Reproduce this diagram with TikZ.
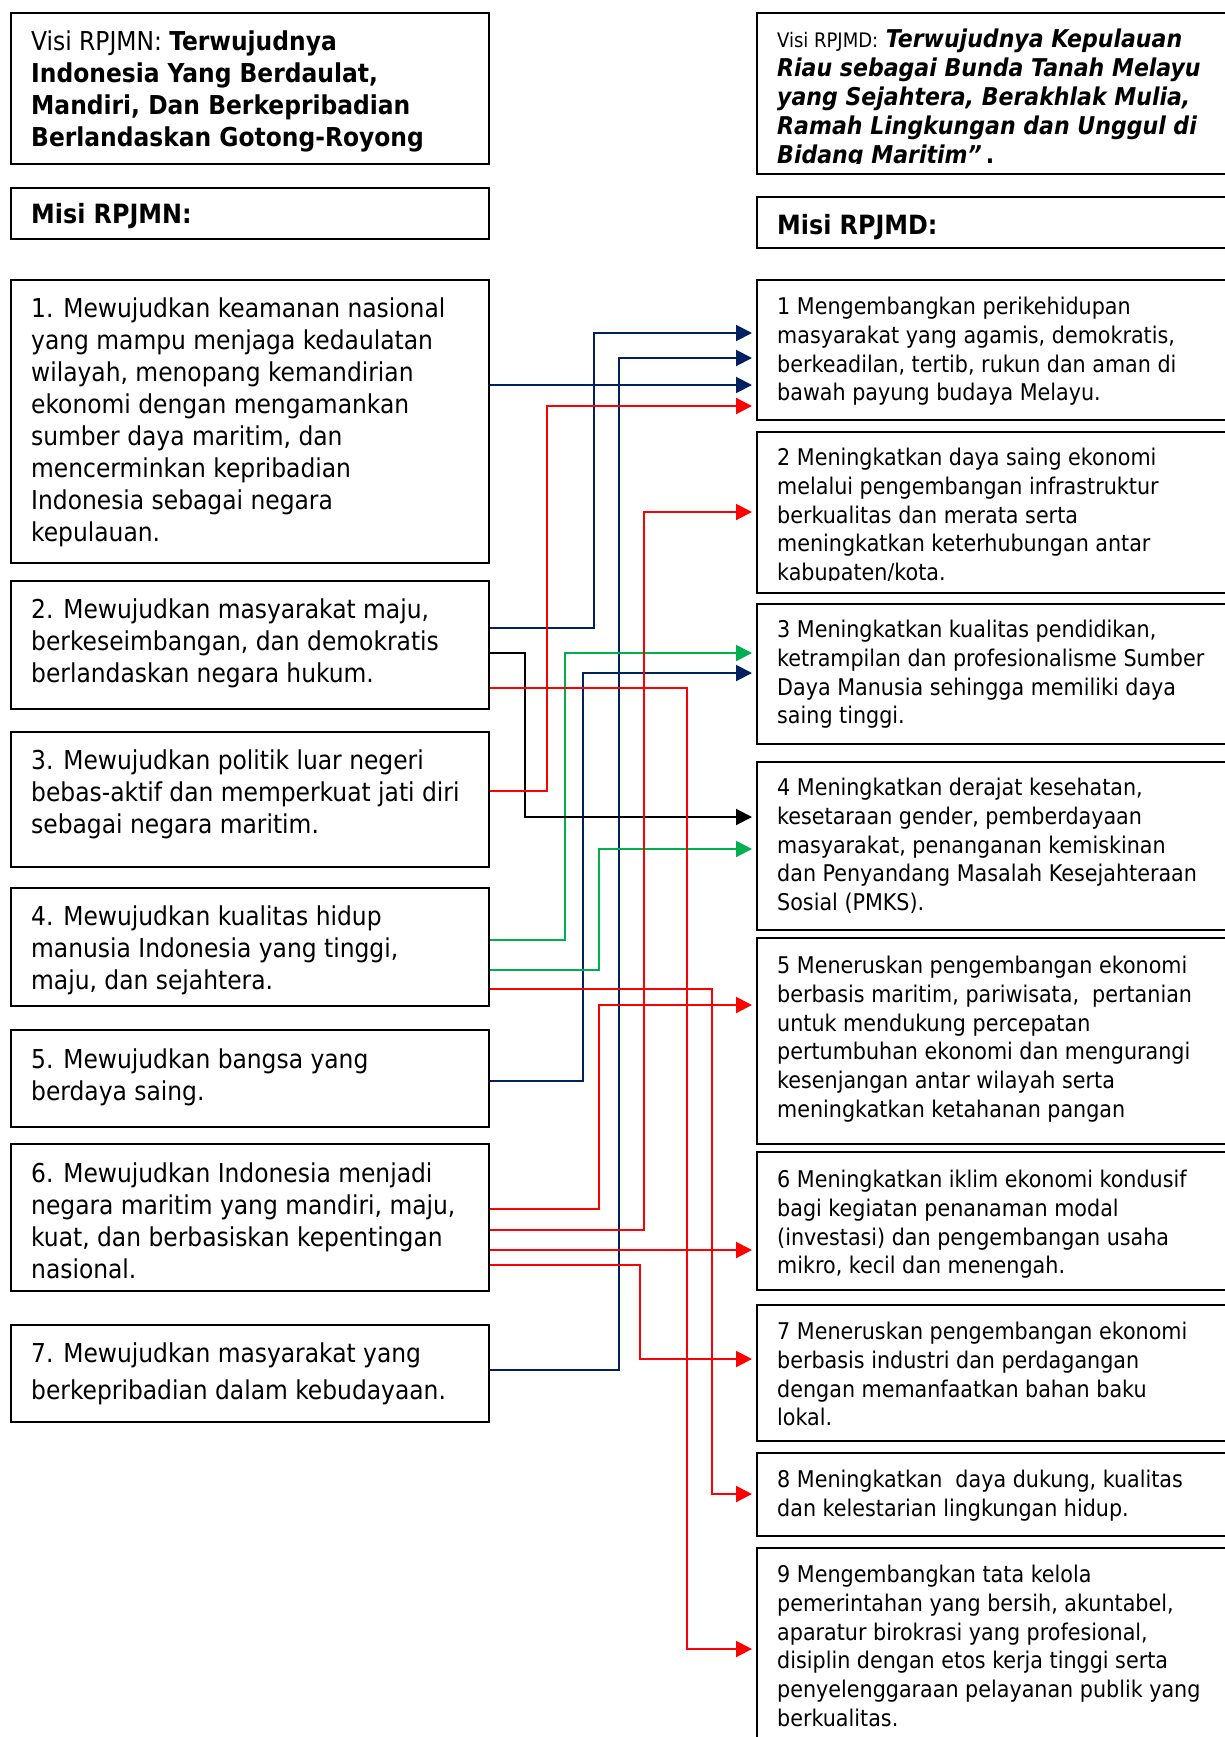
\documentclass[tikz,border=0pt]{standalone}
\usepackage{fontspec}
\setmainfont{DejaVu Sans Condensed}
\usepackage{tikz}
\usetikzlibrary{arrows.meta}
\definecolor{navy}{RGB}{0,32,96}
\definecolor{hijau}{RGB}{0,176,80}

\begin{document}
\begin{tikzpicture}[x=1pt, y=-1pt,
    kotak/.style={draw, line width=2pt, anchor=north west, inner sep=0pt},
    kiri/.style={kotak, minimum width=478pt},
    kanan/.style={kotak, minimum width=486pt},
    tkiri/.style={anchor=north west, yshift=19.9pt, align=left, inner sep=0pt,
        font=\fontsize{26}{32}\selectfont, execute at begin node=\strut},
    tkanan/.style={anchor=north west, yshift=17.2pt, align=left, inner sep=0pt,
        font=\fontsize{23}{28.8}\selectfont, execute at begin node=\strut},
    panah/.style={line width=2pt, -{Triangle[length=16pt, width=16pt]}, shorten >=4pt}]

    \path[use as bounding box, fill=white] (0,0) rectangle (1225,1737);

    % Visi dan misi RPJMN
    \node[kiri, minimum height=151pt] (v1) at (10,12) {};
    \node[tkiri, yshift=-1.5pt] (v1t) at (31,49) {Visi RPJMN: \textbf{Terwujudnya}\\
        \textbf{Indonesia Yang Berdaulat,}\\
        \textbf{Mandiri, Dan Berkepribadian}\\
        \textbf{Berlandaskan Gotong-Royong}};
    \node[kiri, minimum height=51pt] (m1) at (10,187) {};
    \node[tkiri, yshift=2.5pt, font=\fontsize{26.5}{32}\selectfont\bfseries] (m1t) at (31,223) {Misi RPJMN:};

    % Misi 1
    \node[kiri, minimum height=283pt] (l1) at (10,279) {};
    \node[tkiri] (l1t) at (31,317) {1. Mewujudkan keamanan nasional\\
        yang mampu menjaga kedaulatan\\
        wilayah, menopang kemandirian\\
        ekonomi dengan mengamankan\\
        sumber daya maritim, dan\\
        mencerminkan kepribadian\\
        Indonesia sebagai negara\\
        kepulauan.};

    % Misi 2
    \node[kiri, minimum height=128pt] (l2) at (10,580) {};
    \node[tkiri] (l2t) at (31,618) {2. Mewujudkan masyarakat maju,\\
        berkeseimbangan, dan demokratis\\
        berlandaskan negara hukum.};

    % Misi 3
    \node[kiri, minimum height=135pt] (l3) at (10,731) {};
    \node[tkiri] (l3t) at (31,769) {3. Mewujudkan politik luar negeri\\
        bebas-aktif dan memperkuat jati diri\\
        sebagai negara maritim.};

    % Misi 4
    \node[kiri, minimum height=118pt] (l4) at (10,887) {};
    \node[tkiri] (l4t) at (31,925) {4. Mewujudkan kualitas hidup\\
        manusia Indonesia yang tinggi,\\
        maju, dan sejahtera.};

    % Misi 5
    \node[kiri, minimum height=97pt] (l5) at (10,1029) {};
    \node[tkiri] (l5t) at (31,1068) {5. Mewujudkan bangsa yang\\
        berdaya saing.};

    % Misi 6
    \node[kiri, minimum height=147pt] (l6) at (10,1143) {};
    \node[tkiri] (l6t) at (31,1182) {6. Mewujudkan Indonesia menjadi\\
        negara maritim yang mandiri, maju,\\
        kuat, dan berbasiskan kepentingan\\
        nasional.};

    % Misi 7
    \node[kiri, minimum height=97pt] (l7) at (10,1324) {};
    \node[tkiri] (l7t) at (31,1362) {7. Mewujudkan masyarakat yang\\[5pt]
        berkepribadian dalam kebudayaan.};

    % Visi dan misi RPJMD
    \node[kanan, minimum height=161pt] (v2) at (756,12) {};
    \begin{scope}
        \clip (756,12) rectangle (1225,163);
        \node[tkanan, yshift=-3.5pt, font=\fontsize{24.5}{29}\selectfont\bfseries\itshape] (v2t) at (777,42)
            {{\fontsize{20}{29}\selectfont\mdseries\upshape Visi RPJMD:} Terwujudnya Kepulauan\\
            Riau sebagai Bunda Tanah Melayu\\
            yang Sejahtera, Berakhlak Mulia,\\
            Ramah Lingkungan dan Unggul di\\
            Bidang Maritim”\,\upshape.};
    \end{scope}
    \node[kanan, minimum height=51pt] (m2) at (756,196) {};
    \node[tkanan, yshift=3pt, font=\fontsize{26.5}{32}\selectfont\bfseries] (m2t) at (777,232) {Misi RPJMD:};

    % RPJMD 1
    \node[kanan, minimum height=140pt] (r1) at (756,279) {};
    \node[tkanan, yshift=-1pt] (r1t) at (777,313) {1 Mengembangkan perikehidupan\\
        masyarakat yang agamis, demokratis,\\
        berkeadilan, tertib, rukun dan aman di\\
        bawah payung budaya Melayu.};

    % RPJMD 2
    \node[kanan, minimum height=161pt] (r2) at (756,431) {};
    \begin{scope}
        \clip (756,431) rectangle (1225,580);
        \node[tkanan] (r2t) at (777,465) {2 Meningkatkan daya saing ekonomi\\
            melalui pengembangan infrastruktur\\
            berkualitas dan merata serta\\
            meningkatkan keterhubungan antar\\
            kabupaten/kota.};
    \end{scope}

    % RPJMD 3
    \node[kanan, minimum height=140pt] (r3) at (756,603) {};
    \node[tkanan] (r3t) at (777,637) {3 Meningkatkan kualitas pendidikan,\\
        ketrampilan dan profesionalisme Sumber\\
        Daya Manusia sehingga memiliki daya\\
        saing tinggi.};

    % RPJMD 4
    \node[kanan, minimum height=168pt] (r4) at (756,761) {};
    \node[tkanan] (r4t) at (777,795) {4 Meningkatkan derajat kesehatan,\\
        kesetaraan gender, pemberdayaan\\
        masyarakat, penanganan kemiskinan\\
        dan Penyandang Masalah Kesejahteraan\\
        Sosial (PMKS).};

    % RPJMD 5
    \node[kanan, minimum height=206pt] (r5) at (756,937) {};
    \node[tkanan] (r5t) at (777,973) {5 Meneruskan pengembangan ekonomi\\
        berbasis maritim, pariwisata,\ \ pertanian\\
        untuk mendukung percepatan\\
        pertumbuhan ekonomi dan mengurangi\\
        kesenjangan antar wilayah serta\\
        meningkatkan ketahanan pangan};

    % RPJMD 6
    \node[kanan, minimum height=138pt] (r6) at (756,1151) {};
    \node[tkanan] (r6t) at (777,1187) {6 Meningkatkan iklim ekonomi kondusif\\
        bagi kegiatan penanaman modal\\
        (investasi) dan pengembangan usaha\\
        mikro, kecil dan menengah.};

    % RPJMD 7
    \node[kanan, minimum height=136pt] (r7) at (756,1304) {};
    \node[tkanan] (r7t) at (777,1339) {7 Meneruskan pengembangan ekonomi\\
        berbasis industri dan perdagangan\\
        dengan memanfaatkan bahan baku\\
        lokal.};

    % RPJMD 8
    \node[kanan, minimum height=83pt] (r8) at (756,1452) {};
    \node[tkanan] (r8t) at (777,1487) {8 Meningkatkan\ \ daya dukung, kualitas\\
        dan kelestarian lingkungan hidup.};

    % RPJMD 9
    \node[kanan, minimum height=220pt] (r9) at (756,1547) {};
    \node[tkanan] (r9t) at (777,1582) {9 Mengembangkan tata kelola\\
        pemerintahan yang bersih, akuntabel,\\
        aparatur birokrasi yang profesional,\\
        disiplin dengan etos kerja tinggi serta\\
        penyelenggaraan pelayanan publik yang\\
        berkualitas.};

    % Garis biru
    \draw[panah, navy] (l2.east |- 0,628) -| (594,333) -- (r1.west |- 0,333);
    \draw[panah, navy] (l7.east |- 0,1370) -| (619,358) -- (r1.west |- 0,358);
    \draw[panah, navy] (l1.east |- 0,385) -- (r1.west |- 0,385);
    \draw[panah, navy] (l5.east |- 0,1081) -| (583,673) -- (r3.west |- 0,673);

    % Garis hijau
    \draw[panah, hijau] (l4.east |- 0,940) -| (565,653) -- (r3.west |- 0,653);
    \draw[panah, hijau] (l4.east |- 0,970) -| (599,849) -- (r4.west |- 0,849);

    % Garis hitam
    \draw[panah, black] (l2.east |- 0,653) -| (525,817) -- (r4.west |- 0,817);

    % Garis merah
    \draw[panah, red] (l3.east |- 0,791) -| (547,406) -- (r1.west |- 0,406);
    \draw[panah, red] (l6.east |- 0,1230) -| (644,512) -- (r2.west |- 0,512);
    \draw[panah, red] (l6.east |- 0,1209) -| (599,1005) -- (r5.west |- 0,1005);
    \draw[panah, red] (l6.east |- 0,1250) -- (r6.west |- 0,1250);
    \draw[panah, red] (l6.east |- 0,1265) -| (640,1359) -- (r7.west |- 0,1359);
    \draw[panah, red] (l4.east |- 0,989) -| (712,1494) -- (r8.west |- 0,1494);
    \draw[panah, red] (l2.east |- 0,688) -| (687,1649) -- (r9.west |- 0,1649);
\end{tikzpicture}
\end{document}
